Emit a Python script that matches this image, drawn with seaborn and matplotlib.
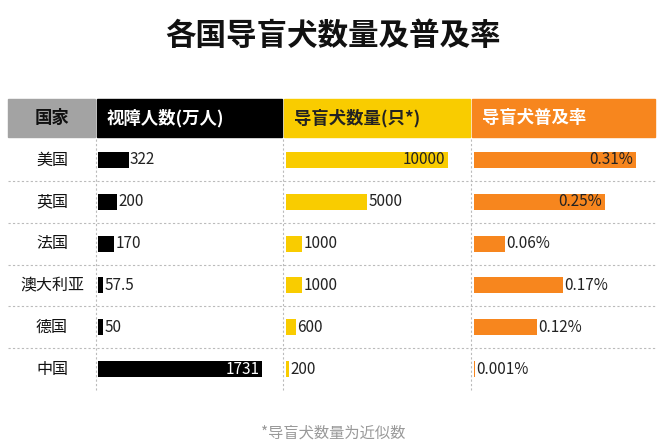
import matplotlib
matplotlib.use("Agg")
import matplotlib.pyplot as plt
import seaborn as sns
import pandas as pd

countries = ["美国", "英国", "法国", "澳大利亚", "德国", "中国"]
blind_people = [322, 200, 170, 57.5, 50, 1731]
blind_labels = ["322", "200", "170", "57.5", "50", "1731"]
guide_dogs = [10000, 5000, 1000, 1000, 600, 200]
dog_labels = ["10000", "5000", "1000", "1000", "600", "200"]
rate = [0.31, 0.25, 0.06, 0.17, 0.12, 0.001]
rate_labels = ["0.31%", "0.25%", "0.06%", "0.17%", "0.12%", "0.001%"]
headers = ["国家", "视障人数(万人)", "导盲犬数量(只*)", "导盲犬普及率"]

plt.rcParams["font.family"] = ["Noto Sans CJK SC", "Noto Sans CJK JP", "Noto Sans CJK TC",
                               "Noto Sans CJK KR", "DejaVu Sans"]
W, H = 666, 448
fig = plt.figure(figsize=(W / 100, H / 100), dpi=100)

def fx(x): return x / W
def fy(y): return 1 - y / H

fig.text(0.5, fy(36), "各国导盲犬数量及普及率", ha="center", va="center",
         fontsize=22, fontweight="bold", color="#111111")

hdr = [(8, 95, "#a3a3a3", "#111111"), (97, 282, "#000000", "white"),
       (284, 470, "#f9cc00", "#222222"), (472, 655, "#f7861e", "white")]
top, bot = 99, 137
for (x0, x1, bg, fg), txt in zip(hdr, headers):
    fig.patches.append(plt.Rectangle((fx(x0), fy(bot)), fx(x1 - x0), (bot - top) / H,
                                     transform=fig.transFigure, color=bg, zorder=0))
    fig.text(fx(x0 + 10) if txt != "国家" else fx((x0 + x1) / 2), fy((top + bot) / 2), txt,
             ha="left" if txt != "国家" else "center", va="center",
             fontsize=12.5, fontweight="bold", color=fg)

row_top, row_bot = 139, 390
rh = (row_bot - row_top) / len(countries)
for i, c in enumerate(countries):
    yc = row_top + rh * (i + 0.5)
    fig.text(fx(52), fy(yc), c, ha="center", va="center", fontsize=11.5, color="#111111")
    if i < len(countries) - 1:
        yl = row_top + rh * (i + 1)
        fig.add_artist(plt.Line2D([fx(8), fx(655)], [fy(yl), fy(yl)],
                                  color="#bbbbbb", lw=0.8, ls=(0, (2, 2))))
for xv in [96, 283, 471]:
    fig.add_artist(plt.Line2D([fx(xv), fx(xv)], [fy(row_top), fy(row_bot)],
                              color="#bbbbbb", lw=0.8, ls=(0, (2, 2))))

df = pd.DataFrame({"country": countries, "blind": blind_people,
                   "dogs": guide_dogs, "rate": rate})
cols = [("blind", blind_labels, 98, 282, 1731 * 184 / 164, "#000000", "white"),
        ("dogs", dog_labels, 286, 470, 10000 * 184 / 162, "#f9cc00", "#222222"),
        ("rate", rate_labels, 474, 655, 0.31 * 181 / 162, "#f7861e", "#222222")]
for key, labels, x0, x1, xmax, color, intext in cols:
    ax = fig.add_axes([fx(x0), fy(row_bot), fx(x1 - x0), (row_bot - row_top) / H])
    sns.barplot(data=df, y="country", x=key, order=countries, color=color,
                saturation=1, width=0.38, ax=ax, orient="h")
    ax.set_xlim(0, xmax)
    ax.axis("off")
    vmax = max(df[key])
    for i, (v, lab) in enumerate(zip(df[key], labels)):
        if v / vmax > 0.7:
            ax.annotate(lab, (v, i), xytext=(-2, 0), textcoords="offset points",
                        ha="right", va="center", fontsize=11, color=intext)
        else:
            ax.annotate(lab, (v, i), xytext=(1, 0), textcoords="offset points",
                        ha="left", va="center", fontsize=11, color="#222222")

fig.text(0.5, fy(433), "*导盲犬数量为近似数", ha="center", va="center",
         fontsize=11, color="#999999")
fig.savefig("out.png", dpi=100, facecolor="white")
